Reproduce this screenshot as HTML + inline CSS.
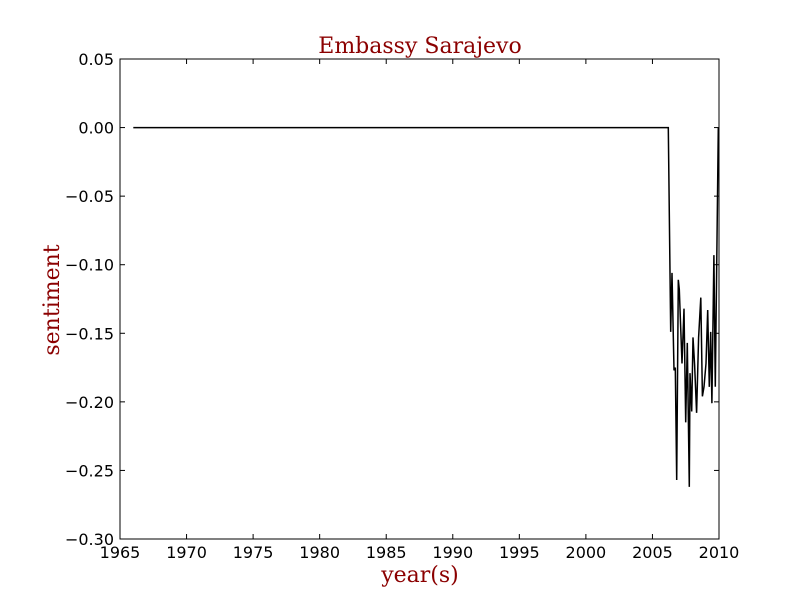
<!DOCTYPE html>
<html><head><meta charset="utf-8"><style>
body{margin:0;background:#fff;}
svg text{font-family:"DejaVu Sans",sans-serif;}
.serif{font-family:"DejaVu Serif",serif !important;}
</style></head><body>
<svg id="chart" width="800" height="600" xmlns="http://www.w3.org/2000/svg">
<rect width="800" height="600" fill="#fff"/>
<text class="serif" x="420" y="53" text-anchor="middle" font-size="22" fill="#8b0000">Embassy Sarajevo</text>
<text class="serif" x="420" y="582" text-anchor="middle" font-size="22" fill="#8b0000">year(s)</text>
<text class="serif" transform="translate(59,300) rotate(-90)" text-anchor="middle" font-size="22" fill="#8b0000">sentiment</text>
<g id="ticks"></g>
<path id="line" fill="none" stroke="#000" stroke-width="1.5" stroke-linejoin="miter"/>
<rect x="120" y="59" width="599" height="480" fill="none" stroke="#000" stroke-width="1"/>
</svg>
<script>
const years=[1966.0,2006.19,2006.37,2006.47,2006.62,2006.72,2006.82,2006.94,2007.02,2007.22,2007.37,2007.50,2007.62,2007.77,2007.82,2007.95,2008.05,2008.17,2008.32,2008.47,2008.63,2008.75,2008.87,2009.02,2009.15,2009.27,2009.38,2009.47,2009.62,2009.72,2009.95];
const values=[0,0,-0.149,-0.106,-0.177,-0.175,-0.257,-0.111,-0.118,-0.172,-0.132,-0.215,-0.157,-0.262,-0.179,-0.207,-0.153,-0.173,-0.208,-0.153,-0.124,-0.196,-0.189,-0.172,-0.133,-0.189,-0.149,-0.201,-0.093,-0.189,0.0];
const xTicks=[1965,1970,1975,1980,1985,1990,1995,2000,2005,2010];
const yTicks=[0.05,0.00,-0.05,-0.10,-0.15,-0.20,-0.25,-0.30];
const X0=120,X1=719,Y0=539,Y1=59;
const xs=v=>X0+(v-1965)/(2010-1965)*(X1-X0);
const ys=v=>Y0-(v+0.30)/(0.35)*(Y0-Y1);
const ns="http://www.w3.org/2000/svg";
const g=document.getElementById('ticks');
function mk(t,a){const e=document.createElementNS(ns,t);for(const k in a)e.setAttribute(k,a[k]);g.appendChild(e);return e;}
xTicks.forEach(t=>{const x=xs(t);
 const l1=mk('line',{x1:x,x2:x,y1:Y0,y2:Y0-5,stroke:'#000'});
 
 
 const l2=mk('line',{x1:x,x2:x,y1:Y1,y2:Y1+5,stroke:'#000'});
 
 
 const tx=mk('text',{x:x,y:Y0+19,'text-anchor':'middle','font-size':16});tx.textContent=t;
 
 
});
yTicks.forEach(t=>{const y=ys(t);
 const l1=mk('line',{x1:X0,x2:X0+5,y1:y,y2:y,stroke:'#000'});
 
 
 const l2=mk('line',{x1:X1,x2:X1-5,y1:y,y2:y,stroke:'#000'});
 
 
 const tx=mk('text',{x:X0-6,y:y+6,'text-anchor':'end','font-size':16});
 tx.textContent=(t<0?'\u2212':'')+Math.abs(t).toFixed(2);
 
 
});
document.getElementById('line').setAttribute('d',years.map((yr,i)=>(i?'L':'M')+xs(yr).toFixed(1)+','+ys(values[i]).toFixed(1)).join(''));
</script>
</body></html>
